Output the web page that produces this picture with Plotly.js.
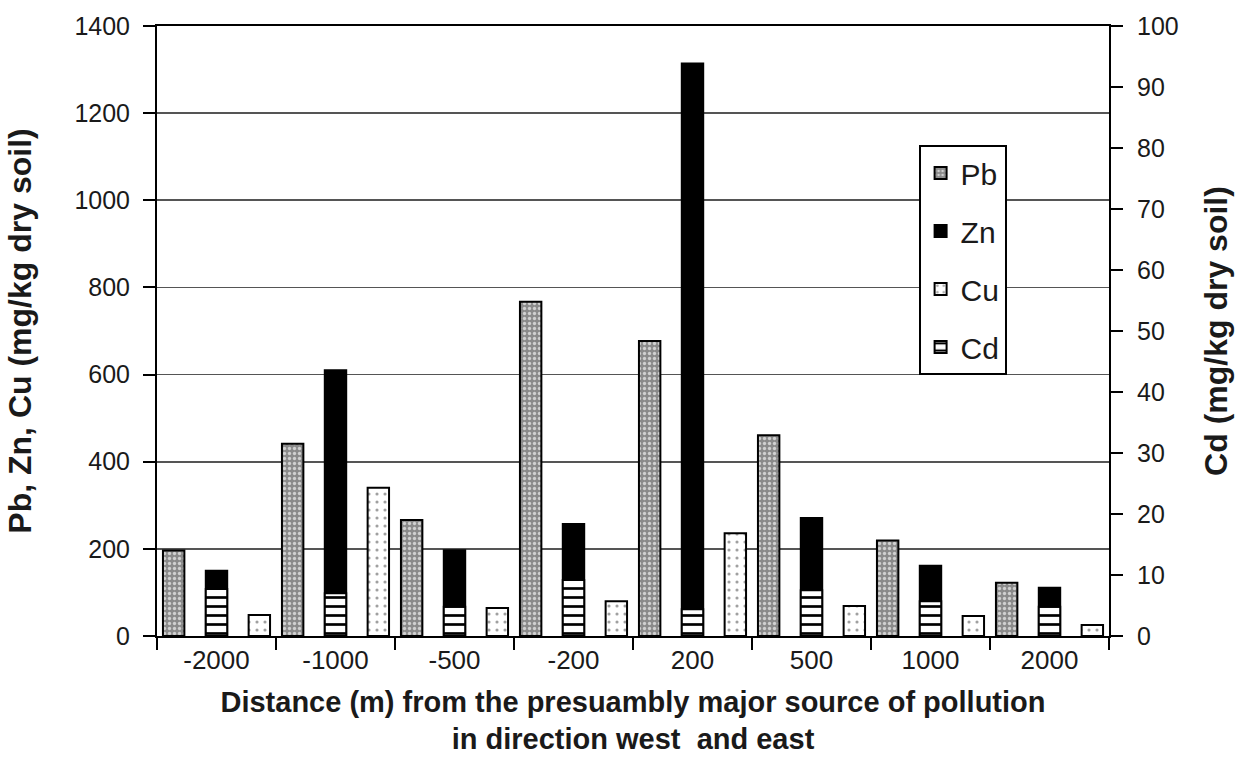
<!DOCTYPE html>
<html>
<head>
<meta charset="utf-8">
<script src="https://cdn.plot.ly/plotly-3.0.1.min.js"></script>
<style>
  html, body { margin: 0; padding: 0; background: #fff; }
  #chart { width: 1238px; height: 779px; }
</style>
</head>
<body>
<div id="chart"></div>
<script>
// Distance categories (m)
const distances = ["-2000", "-1000", "-500", "-200", "200", "500", "1000", "2000"];
// Left axis series (mg/kg dry soil)
const pb = [196, 441, 266, 767, 677, 461, 219, 122];
const zn = [150, 610, 197, 257, 1314, 271, 161, 111];
const cu = [48, 340, 64, 80, 236, 69, 46, 25];
// Right axis series (mg/kg dry soil)
const cd = [7.7, 7.0, 4.8, 9.2, 4.4, 7.5, 5.7, 4.8];

const leftTicks = [0, 200, 400, 600, 800, 1000, 1200, 1400];
const rightTicks = [0, 10, 20, 30, 40, 50, 60, 70, 80, 90, 100];

const FONT = "Liberation Sans, Arial, Helvetica, sans-serif";
const BW = 0.18;
const outline = { color: "#000", width: 2 };

const traces = [
  {
    type: "bar", name: "Pb", x: distances, y: pb, yaxis: "y",
    width: BW, offset: -0.36 - BW / 2, legendgroup: "pb",
    marker: { color: "#8a8a8a", line: outline,
      pattern: { shape: ".", bgcolor: "#8a8a8a", fgcolor: "#d0d0d0", size: 5, solidity: 0.35 } }
  },
  {
    type: "bar", name: "Zn", x: distances, y: zn, yaxis: "y",
    width: BW, offset: -BW / 2, legendgroup: "zn",
    marker: { color: "#000", line: outline }
  },
  {
    type: "bar", name: "Cu", x: distances, y: cu, yaxis: "y",
    width: BW, offset: 0.36 - BW / 2, legendgroup: "cu",
    marker: { color: "#fff", line: outline,
      pattern: { shape: ".", bgcolor: "#fff", fgcolor: "#a0a0a0", size: 8, solidity: 0.12 } }
  },
  {
    type: "bar", name: "Cd", x: distances, y: cd, yaxis: "y2",
    width: BW, offset: -BW / 2, legendgroup: "cd",
    marker: { color: "#fff", line: outline,
      pattern: { shape: "-", bgcolor: "#fff", fgcolor: "#000", size: 9, solidity: 0.3 } }
  }
];

const layout = {
  width: 1238, height: 779,
  margin: { l: 157, r: 129, t: 26, b: 143 },
  paper_bgcolor: "#fff", plot_bgcolor: "#fff",
  barmode: "overlay",
  font: { family: FONT, size: 25, color: "#1a1a1a" },
  showlegend: true,
  legend: {
    x: 0.80, y: 0.805, xanchor: "left", yanchor: "top",
    bgcolor: "#fff", bordercolor: "#000", borderwidth: 2,
    font: { family: FONT, size: 30, color: "#1a1a1a" },
    tracegroupgap: 16, traceorder: "grouped"
  },
  xaxis: {
    type: "category",
    tickson: "boundaries", ticks: "outside", ticklen: 12, tickwidth: 2, tickcolor: "#000",
    showline: true, linewidth: 2, linecolor: "#000", mirror: true,
    showgrid: false, zeroline: false,
    tickfont: { family: FONT, size: 26, color: "#1a1a1a" },
    title: {
      text: "<b>Distance (m) from the presuambly major source of pollution<br>in direction west  and east</b>",
      font: { family: FONT, size: 29, color: "#1a1a1a" },
      standoff: 17
    }
  },
  yaxis: {
    range: [0, 1400], tickvals: leftTicks, ticktext: leftTicks.map(String),
    ticks: "outside", ticklen: 12, tickwidth: 2, tickcolor: "#000",
    ticklabelstandoff: 8,
    showline: true, linewidth: 2, linecolor: "#000",
    showgrid: true, gridcolor: "#555", gridwidth: 1.6, zeroline: false,
    tickfont: { family: FONT, size: 25, color: "#1a1a1a" },
    title: {
      text: "<b>Pb, Zn, Cu (mg/kg dry soil)</b>",
      font: { family: FONT, size: 32, color: "#1a1a1a" },
      standoff: 33
    }
  },
  yaxis2: {
    overlaying: "y", side: "right",
    range: [0, 100], tickvals: rightTicks, ticktext: rightTicks.map(String),
    ticks: "outside", ticklen: 12, tickwidth: 2, tickcolor: "#000",
    ticklabelstandoff: 9,
    showline: true, linewidth: 2, linecolor: "#000",
    showgrid: false, zeroline: false,
    tickfont: { family: FONT, size: 25, color: "#1a1a1a" },
    title: {
      text: "<b>Cd (mg/kg dry soil)</b>",
      font: { family: FONT, size: 32, color: "#1a1a1a" },
      standoff: 27
    }
  }
};

Plotly.newPlot("chart", traces, layout, { displayModeBar: false, staticPlot: true });
</script>
</body>
</html>
